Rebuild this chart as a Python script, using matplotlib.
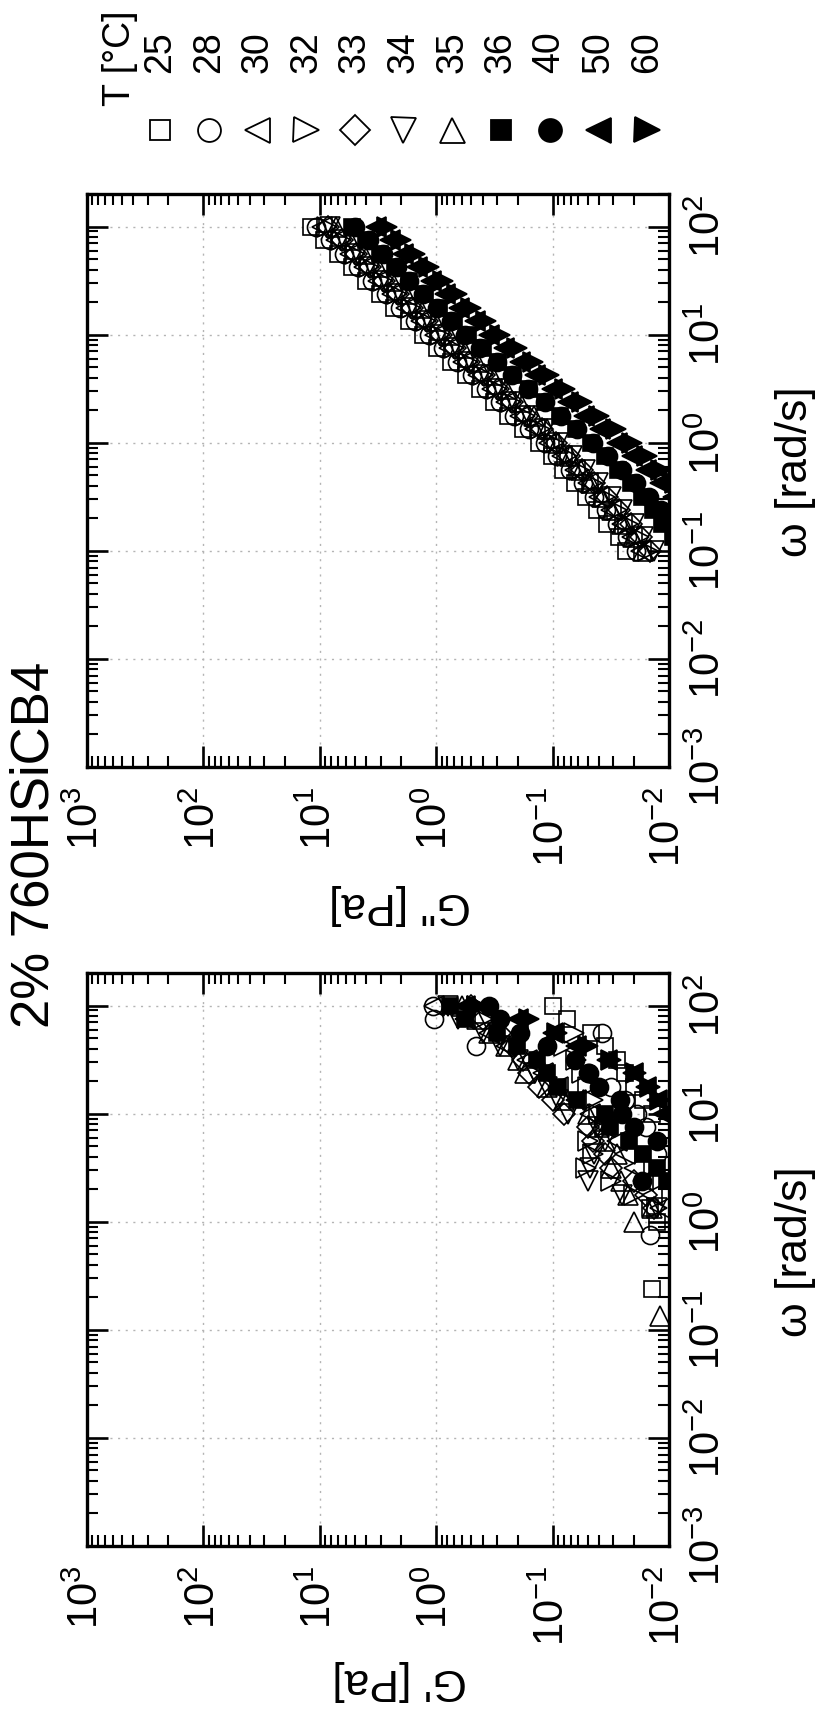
import numpy as np
import matplotlib
matplotlib.use('Agg')
import matplotlib.pyplot as plt
from matplotlib.ticker import LogLocator, NullFormatter

plt.rcParams['font.family'] = ['Liberation Sans', 'DejaVu Sans']
plt.rcParams['mathtext.fontset'] = 'custom'
plt.rcParams['mathtext.rm'] = 'Liberation Sans'
plt.rcParams['mathtext.it'] = 'Liberation Sans:italic'
plt.rcParams['mathtext.bf'] = 'Liberation Sans:bold'

nan = np.nan

# temperatures [°C]
temps = ['25', '28', '30', '32', '33', '34', '35', '36', '40', '50', '60']

# frequency sweep [rad/s]
omega = [100, 75.0, 56.2, 42.2, 31.6, 23.7, 17.8, 13.3, 10.0, 7.50, 5.62, 4.22,
         3.16, 2.37, 1.78, 1.33, 1.00, 0.750, 0.562, 0.422, 0.316, 0.237, 0.178,
         0.133, 0.100]

# G' [Pa]
g1_25 = [0.100, 0.0759, 0.0468, 0.0355, 0.0282, 0.0240, 0.0200, 0.0166, 0.0141, nan, nan, nan,
         nan, nan, nan, 0.0145, 0.0126, nan, nan, nan, nan, 0.0141, nan, nan, nan]
g1_28 = [1.07, 1.05, 0.0380, 0.457, nan, 0.0490, 0.0316, 0.0240, 0.0190, 0.0158, nan, 0.0126,
         nan, nan, nan, nan, nan, 0.0145, nan, nan, nan, nan, nan, nan, nan]
g1_30 = [1.05, 0.562, 0.355, 0.251, 0.166, 0.120, 0.0891, 0.0631, 0.0479, 0.0355, 0.0282, 0.0240,
         0.0200, 0.0166, 0.0141, 0.0120, nan, nan, nan, nan, nan, nan, nan, nan, nan]
g1_32 = [0.447, 0.398, 0.0661, 0.0794, 0.0631, 0.0562, 0.0501, 0.0447, 0.0398, 0.0355, 0.0501, 0.0447,
         0.0513, 0.0316, 0.0200, 0.0126, nan, nan, nan, nan, nan, nan, nan, nan, nan]
g1_33 = [0.501, 0.398, 0.282, 0.224, 0.178, 0.158, 0.132, 0.100, 0.0794, 0.0501, 0.0447, 0.0355,
         0.0316, 0.0200, 0.0158, 0.0135, nan, nan, nan, nan, nan, nan, nan, nan, nan]
g1_34 = [0.794, 0.646, 0.398, 0.282, 0.200, 0.141, 0.112, 0.0891, 0.0741, 0.0417, 0.0355, 0.0437,
         0.0479, 0.0501, 0.0251, 0.0126, nan, nan, nan, nan, nan, nan, nan, nan, nan]
g1_35 = [0.603, 0.447, 0.355, 0.251, 0.200, 0.174, 0.112, 0.0794, 0.0501, 0.0398, 0.0355, 0.0282,
         0.0316, 0.0257, 0.0224, 0.0141, 0.0200, nan, nan, nan, nan, nan, nan, 0.0120, nan]
g1_36 = [0.759, 0.562, 0.302, 0.204, 0.135, 0.112, 0.0891, 0.0617, 0.0355, 0.0324, 0.0219, 0.0166,
         0.0126, 0.0105, nan, nan, nan, nan, nan, nan, nan, nan, nan, nan, nan]
g1_40 = [0.355, 0.282, 0.191, 0.112, 0.0646, 0.0501, 0.0398, 0.0263, 0.0251, 0.0200, 0.0126, nan,
         nan, 0.0170, nan, nan, nan, nan, nan, nan, nan, nan, nan, nan, nan]
g1_50 = [0.562, 0.200, 0.100, 0.0631, 0.0339, 0.0204, 0.0158, 0.0126, 0.0112, nan, nan, nan,
         nan, nan, nan, nan, nan, nan, nan, nan, nan, nan, nan, nan, nan]
g1_60 = [0.447, 0.158, 0.0912, 0.0501, 0.0316, 0.0191, 0.0145, 0.0120, nan, nan, nan, nan,
         nan, nan, nan, nan, nan, nan, nan, nan, nan, nan, nan, nan, nan]

# G'' [Pa]
g2_25 = [12.0, 9.12, 6.92, 5.25, 3.98, 3.02, 2.29, 1.70, 1.29, 0.977, 0.741, 0.550,
         0.417, 0.316, 0.240, 0.178, 0.132, 0.102, 0.0813, 0.0646, 0.0513, 0.0417, 0.0339, 0.0269, 0.0234]
g2_28 = [10.7, 8.13, 6.17, 4.68, 3.55, 2.69, 2.04, 1.51, 1.15, 0.871, 0.661, 0.490,
         0.372, 0.282, 0.214, 0.158, 0.117, 0.0912, 0.0708, 0.0550, 0.0437, 0.0347, 0.0282, 0.0229, 0.0191]
g2_30 = [9.55, 7.24, 5.50, 4.17, 3.16, 2.40, 1.82, 1.35, 1.02, 0.776, 0.589, 0.437,
         0.331, 0.251, 0.191, 0.141, 0.107, 0.0832, 0.0646, 0.0501, 0.0398, 0.0316, 0.0251, 0.0209, 0.0174]
g2_32 = [8.71, 6.61, 5.01, 3.80, 2.88, 2.19, 1.66, 1.23, 0.933, 0.708, 0.537, 0.398,
         0.302, 0.229, 0.174, 0.129, 0.0977, 0.0759, 0.0589, 0.0457, 0.0355, 0.0282, 0.0224, 0.0182, 0.0151]
g2_33 = [8.51, 6.46, 4.90, 3.72, 2.82, 2.14, 1.62, 1.20, 0.912, 0.692, 0.525, 0.389,
         0.295, 0.224, 0.166, 0.123, 0.0933, 0.0724, 0.0562, 0.0437, 0.0339, 0.0269, 0.0214, 0.0174, 0.0145]
g2_34 = [8.13, 6.17, 4.68, 3.55, 2.69, 2.04, 1.55, 1.15, 0.871, 0.661, 0.501, 0.372,
         0.282, 0.214, 0.158, 0.117, 0.0891, 0.0676, 0.0525, 0.0407, 0.0316, 0.0251, 0.0200, 0.0166, 0.0135]
g2_35 = [7.24, 5.50, 4.17, 3.16, 2.40, 1.82, 1.38, 1.02, 0.776, 0.589, 0.447, 0.331,
         0.251, 0.191, 0.145, 0.112, 0.0891, 0.0708, 0.0575, 0.0468, 0.0380, 0.0309, 0.0251, 0.0204, 0.0166]
g2_36 = [5.25, 3.98, 3.02, 2.24, 1.70, 1.26, 0.955, 0.708, 0.537, 0.398, 0.295, 0.219,
         0.158, 0.117, 0.0871, 0.0631, 0.0468, 0.0355, 0.0275, 0.0214, 0.0170, 0.0138, 0.0115, 0.0093, 0.0079]
g2_40 = [5.01, 3.80, 2.88, 2.19, 1.70, 1.29, 0.977, 0.741, 0.562, 0.417, 0.302, 0.224,
         0.162, 0.117, 0.0851, 0.0617, 0.0447, 0.0331, 0.0251, 0.0191, 0.0148, 0.0117, 0.0095, 0.0079, 0.0063]
g2_50 = [3.31, 2.51, 1.91, 1.45, 1.10, 0.832, 0.631, 0.468, 0.355, 0.263, 0.191, 0.141,
         0.102, 0.0741, 0.0537, 0.0389, 0.0282, 0.0209, 0.0158, 0.0120, 0.0093, 0.0072, 0.0058, 0.0045, 0.0036]
g2_60 = [2.63, 2.00, 1.51, 1.15, 0.871, 0.661, 0.501, 0.372, 0.282, 0.204, 0.148, 0.107,
         0.0776, 0.0562, 0.0398, 0.0288, 0.0209, 0.0155, 0.0117, 0.0089, 0.0069, 0.0053, 0.0041, 0.0032, 0.0025]

g1_all = [g1_25, g1_28, g1_30, g1_32, g1_33, g1_34, g1_35, g1_36, g1_40, g1_50, g1_60]
g2_all = [g2_25, g2_28, g2_30, g2_32, g2_33, g2_34, g2_35, g2_36, g2_40, g2_50, g2_60]

markers = ['s', 'o', '<', '>', 'D', 'v', '^', 's', 'o', '<', '>']
filled = [False] * 7 + [True] * 4
size_plot = {'s': 11.5, 'o': 13, '<': 14.5, '>': 14.5, 'v': 14.5, '^': 14.5, 'D': 11}
size_key = {'s': 15, 'o': 16.5, '<': 18, '>': 18, 'v': 18, '^': 18, 'D': 15.5}

W, H = 820, 1711
fig = plt.figure(figsize=(W / 100, H / 100), dpi=100)


def fx(px):
    return px / W


def fy(py):
    return 1 - py / H


def setup(ax):
    ax.set_xscale('log')
    ax.set_yscale('log')
    ax.set_xlim(1e3, 1e-2)
    ax.set_ylim(1e-3, 2e2)
    for a in (ax.xaxis, ax.yaxis):
        a.set_major_locator(LogLocator(base=10, numticks=20))
        a.set_minor_locator(LogLocator(base=10, subs=np.arange(2, 10), numticks=20))
        a.set_minor_formatter(NullFormatter())
    ax.tick_params(which='both', direction='in', top=True, bottom=True, left=True, right=True,
                   labelbottom=True, labelleft=False, labelright=True, labeltop=False)
    ax.tick_params(which='major', length=15, width=1.9, labelsize=30, pad=14)
    ax.tick_params(which='minor', length=8, width=1.5)
    ax.tick_params(axis='both', labelrotation=90)
    ax.grid(True, which='major', color='#b4b4b4', linestyle=(0, (1.5, 4)), linewidth=1.0)
    for s in ax.spines.values():
        s.set_linewidth(2.4)
    plt.setp(ax.get_yticklabels(), va='center')


ax_top = fig.add_axes([fx(87), fy(767), fx(582), 573 / H])
ax_bot = fig.add_axes([fx(87), fy(1546), fx(582), 573 / H])

for ax, data in ((ax_top, g2_all), (ax_bot, g1_all)):
    setup(ax)
    for vals, m, f in zip(data, markers, filled):
        ax.plot(vals, omega, linestyle='none', marker=m, ms=size_plot[m],
                mfc='black' if f else 'none', mec='black', mew=1.2)

# axis labels
fig.text(fx(796), fy(472), 'ω [rad/s]', rotation=90, ha='center', va='center', fontsize=32)
fig.text(fx(796), fy(1252), 'ω [rad/s]', rotation=90, ha='center', va='center', fontsize=32)
fig.text(fx(400), fy(905), 'G" [Pa]', rotation=180, ha='center', va='center', fontsize=32)
fig.text(fx(400), fy(1680), "G' [Pa]", rotation=180, ha='center', va='center', fontsize=32)

# title
fig.text(fx(35), fy(845), '2% 760HSiCB4', rotation=90, ha='center', va='center', fontsize=38)

# key
lax = fig.add_axes([0, 0, 1, 1], zorder=-1)
lax.set_xlim(0, W)
lax.set_ylim(H, 0)
lax.axis('off')
lax.text(120, 58, 'T [°C]', rotation=90, ha='center', va='center', fontsize=27)
for i, (t, m, f) in enumerate(zip(temps, markers, filled)):
    x = 160 + 48.7 * i
    lax.text(x, 52, t, rotation=90, ha='center', va='center', fontsize=27)
    lax.plot(x, 130, marker=m, ms=size_key[m], mfc='black' if f else 'none',
             mec='black', mew=1.3, linestyle='none')

plt.savefig('out.png', dpi=100)
